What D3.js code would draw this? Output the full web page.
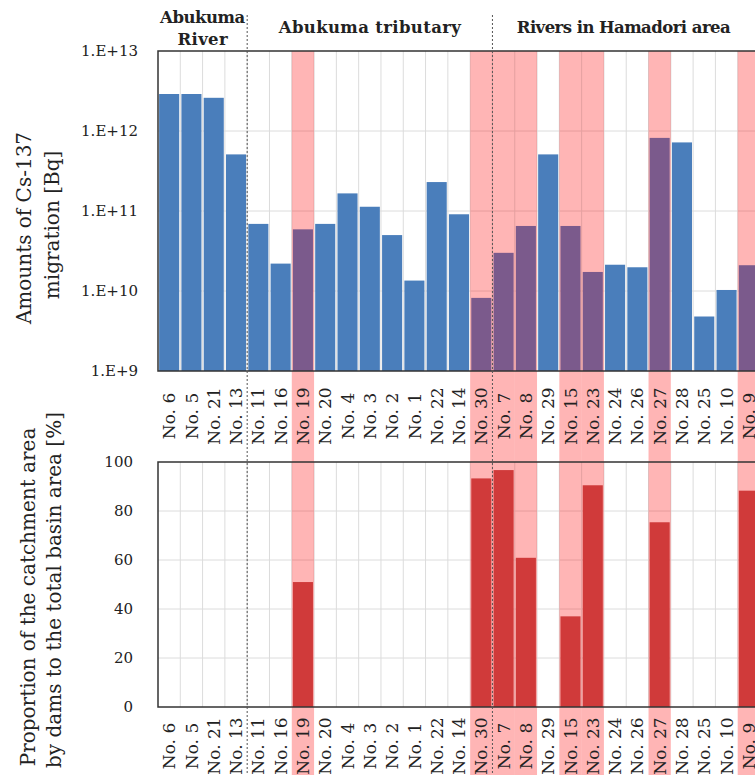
<!DOCTYPE html>
<html>
<head>
<meta charset="utf-8">
<script src="https://cdn.jsdelivr.net/npm/d3@7"></script>
<style>
  body { margin: 0; background: #fff; }
  svg { display: block; }
</style>
</head>
<body>
<svg id="chart" width="755" height="775"></svg>
<script>
// River catchments, ordered by region
const categories = ["No. 6", "No. 5", "No. 21", "No. 13", "No. 11", "No. 16", "No. 19", "No. 20",
  "No. 4", "No. 3", "No. 2", "No. 1", "No. 22", "No. 14", "No. 30", "No. 7", "No. 8", "No. 29",
  "No. 15", "No. 23", "No. 24", "No. 26", "No. 27", "No. 28", "No. 25", "No. 10", "No. 9"];

// Cs-137 migration amounts [Bq]
const cs137 = [2.9e12, 2.9e12, 2.6e12, 5.1e11, 6.9e10, 2.2e10, 5.9e10, 6.9e10,
  1.66e11, 1.13e11, 5.0e10, 1.35e10, 2.3e11, 9.1e10, 8.2e9, 3.0e10, 6.5e10, 5.1e11,
  6.5e10, 1.73e10, 2.13e10, 1.98e10, 8.2e11, 7.2e11, 4.8e9, 1.03e10, 2.1e10];

// Share of the catchment area behind dams [%]
const damShare = [0, 0, 0, 0, 0, 0, 51, 0,
  0, 0, 0, 0, 0, 0, 93.3, 96.7, 60.9, 0,
  37, 90.5, 0, 0, 75.4, 0, 0, 0, 88.3];

// Region groups: title lines and index of first member
const groupTitles = [["Abukuma", "River"], ["Abukuma tributary"], ["Rivers in Hamadori area"]];
const groupStarts = [0, 4, 15];

const logTicks = [1e9, 1e10, 1e11, 1e12, 1e13];
const pctTicks = [0, 20, 40, 60, 80, 100];

const svg = d3.select("#chart");
const serif = "'DejaVu Serif', 'Liberation Serif', serif";

const left = 158, right = 760;
const top1 = 51, bot1 = 371;
const top2 = 462, bot2 = 707;

const x = d3.scaleBand().domain(categories).range([left, right]).padding(0);
const bw = x.bandwidth();
const yLog = d3.scaleLog().domain([1e9, 1e13]).range([bot1, top1]);
const yPct = d3.scaleLinear().domain([0, 100]).range([bot2, top2]);

const gridColor = "#dcdcdc";

// --- grids
function grid(y0, y1, hvals, yScale) {
  const g = svg.append("g");
  g.selectAll("line.v").data(categories.slice(1)).join("line")
    .attr("x1", d => x(d)).attr("x2", d => x(d))
    .attr("y1", y0).attr("y2", y1)
    .attr("stroke", gridColor).attr("stroke-width", 1);
  g.selectAll("line.h").data(hvals).join("line")
    .attr("x1", left).attr("x2", right)
    .attr("y1", d => yScale(d)).attr("y2", d => yScale(d))
    .attr("stroke", gridColor).attr("stroke-width", 1);
}
grid(top1, bot1, [1e10, 1e11, 1e12], yLog);
grid(top2, bot2, [20, 40, 60, 80], yPct);

// --- highlight columns for dammed catchments
const dammed = categories.filter((c, i) => damShare[i] > 0);
svg.append("g").selectAll("rect").data(dammed).join("rect")
  .attr("x", d => x(d)).attr("width", bw)
  .attr("y", top1).attr("height", 775 - top1)
  .attr("fill", "rgba(255,0,0,0.29)");

// --- top bars: migration amounts
svg.append("g").selectAll("rect").data(categories).join("rect")
  .attr("x", d => x(d) + bw * 0.05)
  .attr("width", bw * 0.9)
  .attr("y", (d, i) => yLog(cs137[i]))
  .attr("height", (d, i) => bot1 - yLog(cs137[i]))
  .attr("fill", (d, i) => damShare[i] > 0 ? "#7b5a8c" : "#4a7ebb");

// --- bottom bars: dam share
svg.append("g").selectAll("rect").data(dammed).join("rect")
  .attr("x", d => x(d) + bw * 0.05)
  .attr("width", bw * 0.9)
  .attr("y", d => yPct(damShare[categories.indexOf(d)]))
  .attr("height", d => bot2 - yPct(damShare[categories.indexOf(d)]))
  .attr("fill", "#d03a3a");

// --- panel frames
[[top1, bot1], [top2, bot2]].forEach(([a, b]) => {
  svg.append("rect").attr("x", left).attr("y", a)
    .attr("width", right - left).attr("height", b - a)
    .attr("fill", "none").attr("stroke", "#333").attr("stroke-width", 1.5);
});

// --- region separators
groupStarts.slice(1).forEach(i => {
  const gx = x(categories[i]);
  svg.append("line").attr("x1", gx).attr("x2", gx).attr("y1", 15).attr("y2", 775)
    .attr("stroke", "#555").attr("stroke-width", 1).attr("stroke-dasharray", "2,2");
});

// --- y axes
const axTop = svg.append("g").attr("transform", `translate(${left - 17},0)`)
  .call(d3.axisLeft(yLog).tickValues(logTicks).tickSize(0)
    .tickFormat(d => "1.E+" + Math.round(Math.log10(d))));
const axBot = svg.append("g").attr("transform", `translate(${left - 22},0)`)
  .call(d3.axisLeft(yPct).tickValues(pctTicks).tickSize(0));
[axTop, axBot].forEach(a => {
  a.select(".domain").remove();
  a.selectAll("text").attr("font-family", serif).attr("font-size", 15)
    .attr("fill", "#222");
});

// --- category labels (rotated, centred under each column)
function catLabels(cy) {
  svg.append("g").selectAll("text").data(categories).join("text")
    .attr("transform", d => `translate(${x(d) + bw / 2},${cy}) rotate(-90)`)
    .attr("text-anchor", "middle").attr("dy", "0.36em")
    .attr("font-family", serif).attr("font-size", 17).attr("fill", "#222")
    .text(d => d);
}
catLabels(416);
catLabels(746);

// --- region titles, centred over each group's columns
const groupBounds = groupStarts.map((s, gi) => [
  x(categories[s]),
  gi + 1 < groupStarts.length ? x(categories[groupStarts[gi + 1]]) : 755
]);
const titleWidths = [[85, 50], [182], [214]];
groupTitles.forEach((lines, gi) => {
  const cx = (groupBounds[gi][0] + groupBounds[gi][1]) / 2;
  const ys = lines.length === 2 ? [23, 45] : [33];
  lines.forEach((line, li) => {
    svg.append("text").attr("x", cx).attr("y", ys[li])
      .attr("text-anchor", "middle")
      .attr("font-family", serif).attr("font-weight", "bold").attr("font-size", 16.5)
      .attr("fill", "#222")
      .attr("textLength", titleWidths[gi][li]).attr("lengthAdjust", "spacing")
      .text(line);
  });
});

// --- axis titles
function yTitle(cx, cy, text) {
  svg.append("text").attr("transform", `translate(${cx},${cy}) rotate(-90)`)
    .attr("text-anchor", "middle").attr("dy", "0.35em")
    .attr("font-family", serif).attr("font-size", 20).attr("fill", "#222")
    .text(text);
}
yTitle(24, 228, "Amounts of Cs-137");
yTitle(52, 225, "migration [Bq]");
yTitle(28, 597, "Proportion of the catchment area");
yTitle(54, 590, "by dams to the total basin area [%]");
</script>
</body>
</html>
